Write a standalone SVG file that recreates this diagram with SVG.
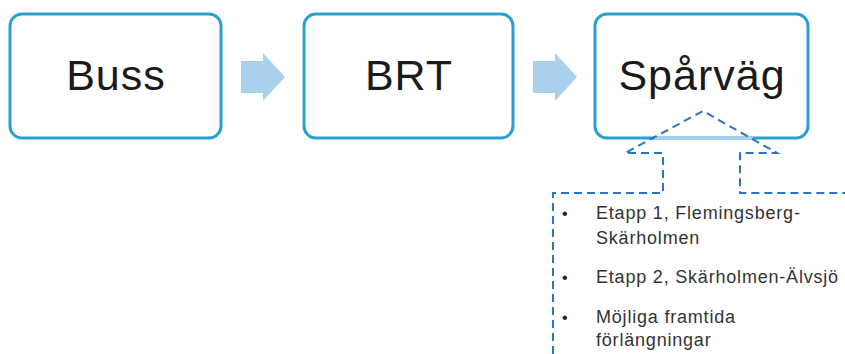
<svg xmlns="http://www.w3.org/2000/svg" width="845" height="354" viewBox="0 0 845 354">
  <style>
    .box { fill: #ffffff; stroke: #2a9fd0; stroke-width: 3; }
    .lbl { font-family: "Liberation Sans", Arial, sans-serif; font-size: 43px; letter-spacing: 1px; fill: #1a1a1a; text-anchor: middle; }
    .arrow { fill: #a9d1ee; }
    .dash { fill: none; stroke: #2a74c4; stroke-width: 2; stroke-dasharray: 8 5; }
    .item { font-family: "Liberation Sans", Arial, sans-serif; font-size: 18px; letter-spacing: 0.8px; fill: #333333; }
    .bul { font-family: "Liberation Sans", Arial, sans-serif; font-size: 16px; fill: #222222; }
  </style>
  <rect width="845" height="354" fill="#ffffff"/>
  <g id="node-buss">
    <rect class="box" x="10" y="14" width="211" height="124" rx="12"/>
    <text class="lbl" x="116" y="90">Buss</text>
  </g>
  <g id="node-brt">
    <rect class="box" x="304" y="14" width="209" height="124" rx="12"/>
    <text class="lbl" x="409" y="90">BRT</text>
  </g>
  <g id="node-sparvag">
    <rect class="box" x="595" y="14" width="213" height="124" rx="12"/>
    <text class="lbl" x="702" y="90">Spårväg</text>
  </g>
  <g id="connectors">
    <polygon class="arrow" points="241,61 263,61 263,53 285,77 263,101 263,93 241,93"/>
    <polygon class="arrow" points="533,61 555,61 555,53 577,77 555,101 555,93 533,93"/>
    <line x1="655" y1="138" x2="753" y2="138" stroke="#a6d3ea" stroke-width="3"/>
    <path class="dash" d="M553,354 L553,193 L663,193 L663,153 L625,153 L703,111 L777,153 L740,153 L740,193 L845,193"/>
  </g>
  <g id="node-list">
    <text class="bul" x="562" y="219">•</text>
    <text class="item" x="596" y="219">Etapp 1, Flemingsberg-</text>
    <text class="item" x="596" y="244">Skärholmen</text>
    <text class="bul" x="562" y="283">•</text>
    <text class="item" x="596" y="283">Etapp 2, Skärholmen-Älvsjö</text>
    <text class="bul" x="562" y="323">•</text>
    <text class="item" x="596" y="323">Möjliga framtida</text>
    <text class="item" x="596" y="346">förlängningar</text>
  </g>
</svg>
